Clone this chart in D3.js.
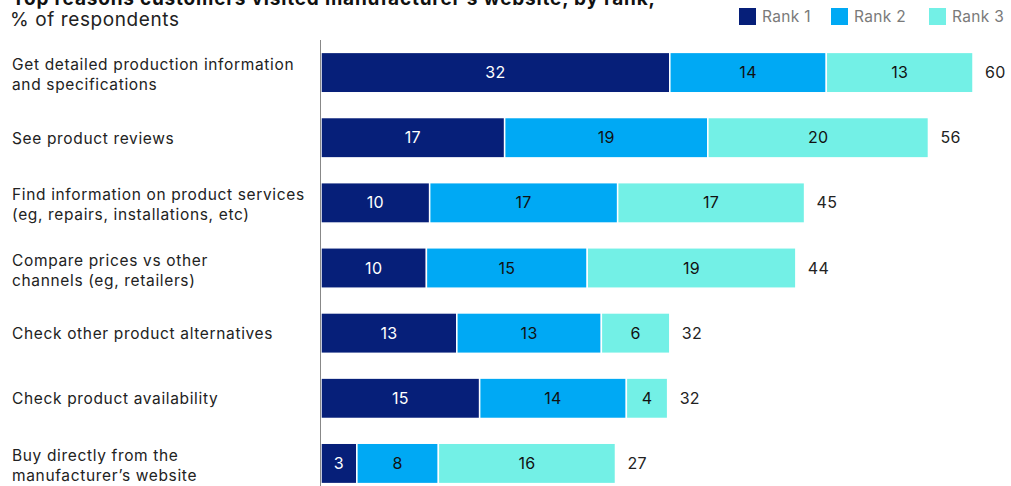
<!DOCTYPE html>
<html>
<head>
<meta charset="utf-8">
<script src="https://cdn.jsdelivr.net/npm/d3@7"></script>
<style>
  body { margin: 0; background: #fff; font-family: Inter, "Liberation Sans", Arial, sans-serif; }
  svg { display: block; }
</style>
</head>
<body>
<svg id="chart"></svg>
<script>
const categories = [
  ["Get detailed production information", "and specifications"],
  ["See product reviews"],
  ["Find information on product services", "(eg, repairs, installations, etc)"],
  ["Compare prices vs other", "channels (eg, retailers)"],
  ["Check other product alternatives"],
  ["Check product availability"],
  ["Buy directly from the", "manufacturer\u2019s website"]
];
const rank1 = [32.1, 16.9, 10.0, 9.7, 12.5, 14.6, 3.3];
const rank2 = [14.4, 18.7, 17.3, 14.8, 13.3, 13.5, 7.5];
const rank3 = [13.5, 20.3, 17.2, 19.2, 6.3, 3.8, 16.3];
const rankLabels = [[32, 14, 13], [17, 19, 20], [10, 17, 17], [10, 15, 19], [13, 13, 6], [15, 14, 4], [3, 8, 16]];
const totals = [60, 56, 45, 44, 32, 32, 27];
const seriesNames = ["Rank 1", "Rank 2", "Rank 3"];
const colors = ["#061f79", "#00a9f4", "#73f0e6"];
const textColors = ["#ffffff", "#111111", "#111111"];

const width = 1011, height = 486;
const svg = d3.select("#chart").attr("width", width).attr("height", height);

const rows = categories.map((c, i) => ({ i, r1: rank1[i], r2: rank2[i], r3: rank3[i] }));
const stack = d3.stack().keys(["r1", "r2", "r3"])(rows);

const x = d3.scaleLinear().domain([0, 60]).range([321, 973]);
const y = d3.scaleBand().domain(d3.range(categories.length)).range([40, 496]).paddingInner(0.38).paddingOuter(0.19);

// title (cut at the top) and subtitle
svg.append("text").attr("x", 12).attr("y", 5)
  .attr("font-size", 19).attr("font-weight", "bold").attr("fill", "#111")
  .attr("letter-spacing", 0.8)
  .text("Top reasons customers visited manufacturer\u2019s website, by rank,");
svg.append("text").attr("x", 10).attr("y", 26)
  .attr("font-size", 19).attr("fill", "#222").attr("letter-spacing", 0.6)
  .text("% of respondents");

// legend
const legend = svg.append("g");
const legendX = [739, 831, 929];
seriesNames.forEach((n, k) => {
  legend.append("rect").attr("x", legendX[k]).attr("y", 8).attr("width", 17).attr("height", 17).attr("fill", colors[k]);
  legend.append("text").attr("x", legendX[k] + 23).attr("y", 22)
    .attr("font-size", 15.5).attr("fill", "#7a7a7a").attr("letter-spacing", 0.3).text(n);
});

// bars
stack.forEach((layer, k) => {
  const g = svg.append("g");
  g.selectAll("rect").data(layer).enter().append("rect")
    .attr("x", d => x(d[0]))
    .attr("y", d => y(d.data.i))
    .attr("width", d => x(d[1]) - x(d[0]))
    .attr("height", y.bandwidth())
    .attr("fill", colors[k])
    .attr("stroke", "#fff").attr("stroke-width", 1.5);
  g.selectAll("text").data(layer).enter().append("text")
    .attr("x", d => (x(d[0]) + x(d[1])) / 2)
    .attr("y", d => y(d.data.i) + y.bandwidth() / 2)
    .attr("dy", "0.35em").attr("text-anchor", "middle")
    .attr("font-size", 16).attr("fill", textColors[k]).attr("letter-spacing", 0.3)
    .text(d => rankLabels[d.data.i][k]);
});

// totals
const last = stack[stack.length - 1];
svg.append("g").selectAll("text").data(last).enter().append("text")
  .attr("x", d => x(d[1]) + 12)
  .attr("y", d => y(d.data.i) + y.bandwidth() / 2)
  .attr("dy", "0.35em").attr("font-size", 16).attr("fill", "#222").attr("letter-spacing", 0.3)
  .text(d => totals[d.data.i]);

// axis line
svg.append("line").attr("x1", 320.5).attr("x2", 320.5).attr("y1", 40).attr("y2", height)
  .attr("stroke", "#888").attr("stroke-width", 1);

// category labels
const lab = svg.append("g").selectAll("text").data(categories).enter().append("text")
  .attr("x", 12)
  .attr("y", (d, i) => y(i) + y.bandwidth() / 2 + (d.length > 1 ? -2.5 : 6))
  .attr("font-size", 15.5).attr("fill", "#222").attr("letter-spacing", 0.65);
lab.selectAll("tspan").data(d => d).enter().append("tspan")
  .attr("x", 12).attr("dy", (d, j) => j === 0 ? 0 : 20)
  .text(d => d);
</script>
</body>
</html>
